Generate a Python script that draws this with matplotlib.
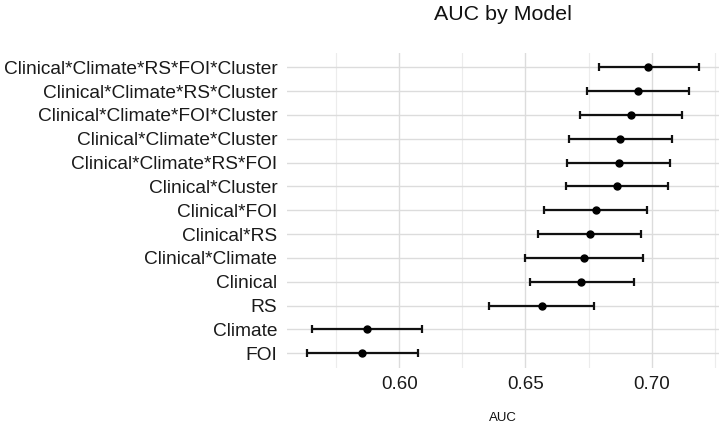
import matplotlib
matplotlib.use("Agg")
import matplotlib.pyplot as plt
import numpy as np

plt.rcParams['font.family'] = ['Liberation Sans', 'DejaVu Sans']

models = ["Clinical*Climate*RS*FOI*Cluster", "Clinical*Climate*RS*Cluster",
          "Clinical*Climate*FOI*Cluster", "Clinical*Climate*Cluster",
          "Clinical*Climate*RS*FOI", "Clinical*Cluster", "Clinical*FOI",
          "Clinical*RS", "Clinical*Climate", "Clinical", "RS", "Climate", "FOI"]
auc = [0.6987, 0.6945, 0.6919, 0.6875, 0.6869, 0.6862, 0.6780,
       0.6754, 0.6731, 0.6722, 0.6565, 0.5873, 0.5853]
lower = [0.6790, 0.6744, 0.6718, 0.6674, 0.6666, 0.6659, 0.6575,
         0.6548, 0.6497, 0.6518, 0.6357, 0.5656, 0.5633]
upper = [0.7189, 0.7147, 0.7120, 0.7079, 0.7071, 0.7064, 0.6983,
         0.6958, 0.6967, 0.6929, 0.6773, 0.6092, 0.6075]
xticks = [0.60, 0.65, 0.70]

fig = plt.figure(figsize=(7.2, 4.23), dpi=100)
ax = fig.add_axes([287/720, 1-367.6/423, (719-287)/720, (367.6-53)/423])

n = len(models)
y = np.arange(n)[::-1]
auc = np.array(auc); lower = np.array(lower); upper = np.array(upper)

lo_all, hi_all = lower.min(), upper.max()
rng = hi_all - lo_all
ax.set_xlim(lo_all - 0.05*rng, hi_all + 0.05*rng)
ax.set_ylim(-0.6, n - 1 + 0.6)
ax.set_xticks(xticks)
ax.set_xticklabels([f"{t:.2f}" for t in xticks])
ax.set_xticks([0.575, 0.625, 0.675, 0.725], minor=True)
ax.set_yticks(y)
ax.set_yticklabels(models)
ax.grid(True, which='major', color='#dcdcdc', linewidth=1.0)
ax.grid(True, which='minor', axis='x', color='#ececec', linewidth=0.8)
ax.set_axisbelow(True)
for s in ax.spines.values():
    s.set_visible(False)
ax.tick_params(axis='both', which='both', length=0)
ax.tick_params(axis='y', labelsize=13.8, pad=7, labelcolor='#1a1a1a')
ax.tick_params(axis='x', labelsize=13.5, pad=6, labelcolor='#1a1a1a')

ax.errorbar(auc, y, xerr=[auc - lower, upper - auc], fmt='o', color='black',
            ecolor='#111111', elinewidth=1.6, capsize=2.9, capthick=1.6,
            markersize=5, zorder=3)

ax.set_xlabel("AUC", fontsize=9.5, labelpad=14, color='#111111')
fig.text((287+719)/2/720, 1-14/423, "AUC by Model", ha='center', va='center',
         fontsize=15.4, color='#111111')

fig.savefig("out.png", dpi=100)
